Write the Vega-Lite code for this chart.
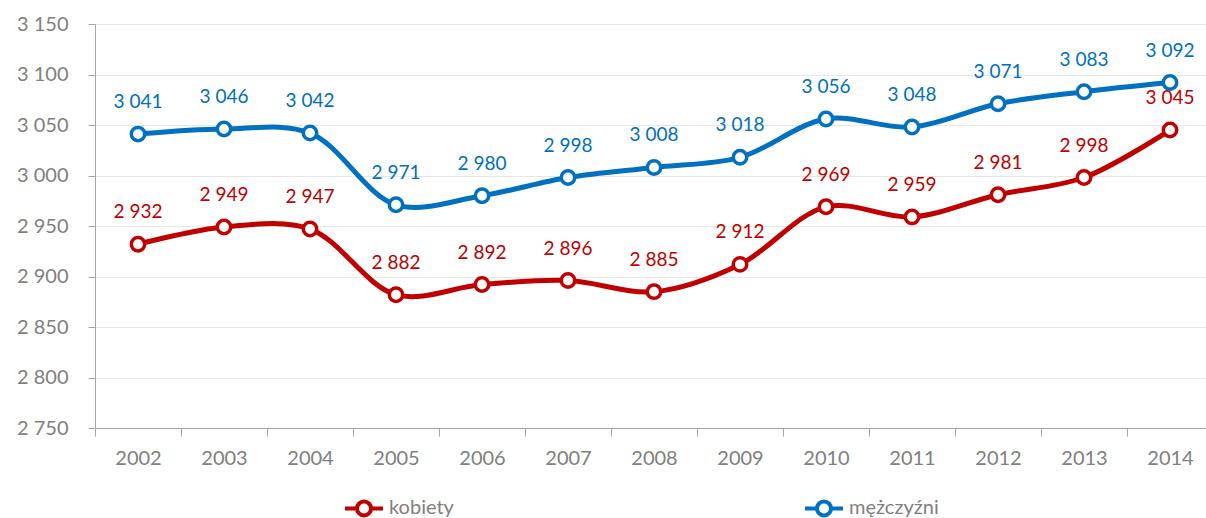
{
  "$schema": "https://vega.github.io/schema/vega-lite/v6.json",
  "autosize": "none",
  "width": 1111,
  "height": 404,
  "padding": {"left": 95, "top": 24, "right": 0, "bottom": 90},
  "background": "white",
  "config": {
    "font": "Lato",
    "view": {"stroke": null},
    "locale": {"number": {"decimal": ",", "thousands": " ", "grouping": [3], "currency": ["", " zł"]}}
  },
  "data": {"values": [
    {"year": "2002", "series": "kobiety", "value": 2932},
    {"year": "2003", "series": "kobiety", "value": 2949},
    {"year": "2004", "series": "kobiety", "value": 2947},
    {"year": "2005", "series": "kobiety", "value": 2882},
    {"year": "2006", "series": "kobiety", "value": 2892},
    {"year": "2007", "series": "kobiety", "value": 2896},
    {"year": "2008", "series": "kobiety", "value": 2885},
    {"year": "2009", "series": "kobiety", "value": 2912},
    {"year": "2010", "series": "kobiety", "value": 2969},
    {"year": "2011", "series": "kobiety", "value": 2959},
    {"year": "2012", "series": "kobiety", "value": 2981},
    {"year": "2013", "series": "kobiety", "value": 2998},
    {"year": "2014", "series": "kobiety", "value": 3045},
    {"year": "2002", "series": "mężczyźni", "value": 3041},
    {"year": "2003", "series": "mężczyźni", "value": 3046},
    {"year": "2004", "series": "mężczyźni", "value": 3042},
    {"year": "2005", "series": "mężczyźni", "value": 2971},
    {"year": "2006", "series": "mężczyźni", "value": 2980},
    {"year": "2007", "series": "mężczyźni", "value": 2998},
    {"year": "2008", "series": "mężczyźni", "value": 3008},
    {"year": "2009", "series": "mężczyźni", "value": 3018},
    {"year": "2010", "series": "mężczyźni", "value": 3056},
    {"year": "2011", "series": "mężczyźni", "value": 3048},
    {"year": "2012", "series": "mężczyźni", "value": 3071},
    {"year": "2013", "series": "mężczyźni", "value": 3083},
    {"year": "2014", "series": "mężczyźni", "value": 3092}
  ]},
  "encoding": {
    "x": {
      "field": "year", "type": "ordinal",
      "scale": {"type": "band", "paddingInner": 0, "paddingOuter": 0, "range": [0, 1118]},
      "axis": {
        "title": null, "labelAngle": 0, "tickBand": "extent",
        "domainColor": "#a6a6a6", "tickColor": "#a6a6a6", "tickSize": 8,
        "labelColor": "#808080", "labelFontSize": 20, "labelPadding": 12,
        "grid": false
      }
    },
    "y": {
      "field": "value", "type": "quantitative",
      "scale": {"domain": [2750, 3150], "nice": false, "zero": false},
      "axis": {
        "title": null, "values": [2750, 2800, 2850, 2900, 2950, 3000, 3050, 3100, 3150],
        "format": ",d", "domainColor": "#a6a6a6", "ticks": true, "tickColor": "#a6a6a6", "tickSize": 7,
        "labelColor": "#808080", "labelFontSize": 20, "labelPadding": 20,
        "gridColor": "#e6e6e6", "gridWidth": 1
      }
    }
  },
  "layer": [
    {
      "mark": {"type": "line", "interpolate": "catmull-rom", "strokeWidth": 5},
      "encoding": {
        "stroke": {
          "field": "series", "type": "nominal",
          "scale": {"domain": ["kobiety", "mężczyźni"], "range": ["#C00000", "#0070C0"]},
          "legend": {
            "title": null, "orient": "none", "legendX": 248, "legendY": 463,
            "direction": "horizontal", "columns": 2, "columnPadding": 343,
            "symbolType": "M-1,0H-0.37M0.37,0H1M-0.37,0A0.37,0.37 0 1,0 0.37,0A0.37,0.37 0 1,0 -0.37,0Z",
            "symbolSize": 1444, "symbolStrokeWidth": 4,
            "labelFontSize": 20, "labelColor": "#808080", "labelOffset": 4
          }
        }
      }
    },
    {
      "mark": {"type": "point", "shape": "circle", "filled": true, "fillOpacity": 1, "size": 180, "strokeWidth": 3.5, "opacity": 1},
      "encoding": {
        "stroke": {"field": "series", "type": "nominal"},
        "fill": {"field": "series", "type": "nominal", "scale": {"domain": ["kobiety", "mężczyźni"], "range": ["white", "white"]}}
      }
    },
    {
      "mark": {"type": "text", "dy": -32, "fontSize": 19, "baseline": "middle"},
      "encoding": {
        "text": {"field": "value", "type": "quantitative", "format": ",d"},
        "color": {"field": "series", "type": "nominal", "scale": {"domain": ["kobiety", "mężczyźni"], "range": ["#C00000", "#0070C0"]}, "legend": null}
      }
    }
  ]
}
